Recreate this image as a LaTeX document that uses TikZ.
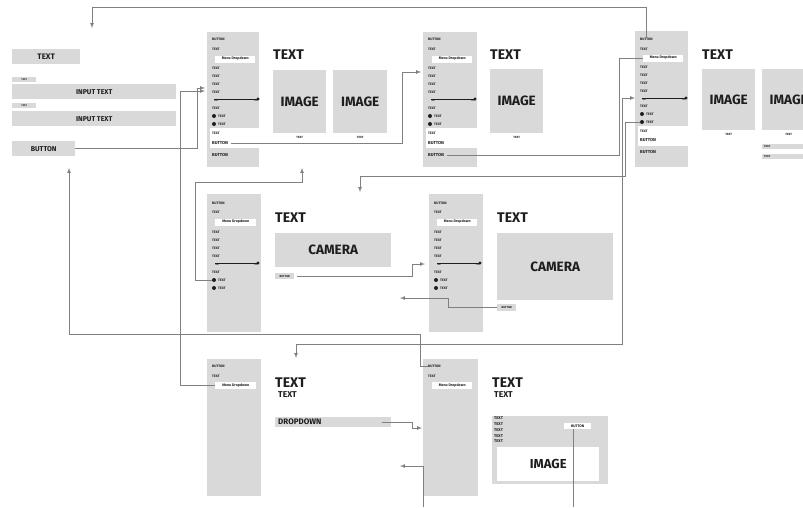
\documentclass[tikz,border=0pt]{standalone}
\usepackage{fontspec}
\setmainfont{Fira Sans}
\usepackage{xcolor}
\usetikzlibrary{positioning}

\definecolor{panel}{HTML}{D9D9D9}
\definecolor{wire}{HTML}{808080}
\definecolor{ink}{HTML}{1E1E1E}

\begin{document}
\begin{tikzpicture}[x=1pt, y=-1pt, >=latex,
        phone/.style={fill=panel, anchor=north west, inner sep=0pt},
        block/.style={fill=panel, anchor=north west, inner sep=0pt, text=ink},
        item/.style={anchor=west, inner sep=0pt, text=ink, font=\fontsize{3.4}{4}\selectfont\bfseries},
        bigitem/.style={item, font=\fontsize{4.3}{5}\selectfont\bfseries},
        sliderlabel/.style={inner sep=0pt, text=ink, font=\fontsize{1.8}{2}\selectfont\bfseries},
        menubox/.style={anchor=west, fill=white, inner sep=0pt, minimum width=40pt, minimum height=7pt, text=ink, font=\fontsize{3.6}{4}\selectfont\bfseries},
        whitebox/.style={anchor=north west, fill=white, inner sep=0pt, text=ink},
        heading/.style={anchor=west, inner sep=0pt, text=ink, font=\fontsize{14}{16}\selectfont\bfseries},
        subhead/.style={anchor=west, inner sep=0pt, text=ink, font=\fontsize{8.5}{10}\selectfont\bfseries},
        imagebox/.style={block, font=\fontsize{13.5}{15}\selectfont\bfseries},
        imgcaption/.style={inner sep=0pt, text=ink, font=\fontsize{3}{4}\selectfont\bfseries},
        knob/.style={circle, fill=ink, inner sep=0pt, minimum size=3.4pt},
        link/.style={draw=wire, line width=0.7pt}]

        \path [fill=white, use as bounding box] (0,0) rectangle (803,507);

        % left column
        \node (LeftTitle) [block, minimum width=68pt, minimum height=15pt, font=\fontsize{8}{9}\selectfont\bfseries] at (12,49) {TEXT};
        \node (LeftLabel1) [block, minimum width=24pt, minimum height=5pt, font=\fontsize{2.5}{3}\selectfont\bfseries] at (12,77) {TEXT};
        \node (LeftInput1) [block, minimum width=164pt, minimum height=15pt, font=\fontsize{7}{8}\selectfont\bfseries] at (12,84) {INPUT TEXT};
        \node (LeftLabel2) [block, minimum width=24pt, minimum height=5pt, font=\fontsize{2.5}{3}\selectfont\bfseries] at (12,103) {TEXT};
        \node (LeftInput2) [block, minimum width=164pt, minimum height=15pt, font=\fontsize{7}{8}\selectfont\bfseries] at (12,111) {INPUT TEXT};
        \node (LeftBtn) [block, minimum width=63pt, minimum height=15pt, font=\fontsize{7}{8}\selectfont\bfseries] at (12,141) {BUTTON};

        % phone 1
        \node (Phone1) [phone, minimum width=52pt, minimum height=135pt] at (207,32) {};
        \node (P1Btn) [item] at (212,39) {BUTTON};
        \node (P1Text) [item] at ([yshift=-10pt]P1Btn.west) {TEXT};
        \node (P1Menu) [menubox] at ([xshift=3pt, yshift=-10pt]P1Text.west) {Menu Dropdown};
        \node (P1Text1) [item] at ([xshift=-3pt, yshift=-9pt]P1Menu.west) {TEXT};
        \node (P1Text2) [item] at ([yshift=-8pt]P1Text1.west) {TEXT};
        \node (P1Text3) [item] at ([yshift=-8pt]P1Text2.west) {TEXT};
        \node (P1Text4) [item] at ([yshift=-8pt]P1Text3.west) {TEXT};
        \coordinate (P1Slide) at ([xshift=2pt, yshift=-7pt]P1Text4.west);
        \draw [ink, line width=0.6pt] (P1Slide) -- ++(44,0) node (P1Knob) [knob] {};
        \node (P1Min) [sliderlabel, anchor=north west] at ([yshift=-1.2pt]P1Slide) {TEXT};
        \node (P1Max) [sliderlabel, anchor=north east] at ([yshift=-1.2pt]P1Knob.center) {TEXT};
        \node (P1Text5) [item] at ([xshift=-2pt, yshift=-9pt]P1Slide) {TEXT};
        \node (P1Radio1) [item] at ([xshift=6pt, yshift=-8pt]P1Text5.west) {TEXT};
        \node (P1Radio2) [item] at ([yshift=-8pt]P1Radio1.west) {TEXT};
        \fill [ink] ([xshift=-4pt]P1Radio1.west) circle (2pt) ([xshift=-4pt]P1Radio2.west) circle (2pt);
        \node (P1Panel) [whitebox, minimum width=49pt, minimum height=20pt] at ([xshift=-8pt, yshift=-4pt]P1Radio2.west) {};
        \node (P1PanelText) [item] at ([xshift=-6pt, yshift=-9pt]P1Radio2.west) {TEXT};
        \node (P1PanelBtn) [bigitem] at ([yshift=-10pt]P1PanelText.west) {BUTTON};
        \node (P1Bottom) [bigitem] at ([yshift=-12pt]P1PanelBtn.west) {BUTTON};

        \node (Head1) [heading] at (273,55) {TEXT};
        \node (Img1a) [imagebox, minimum width=53pt, minimum height=63pt] at (273,70) {IMAGE};
        \node (Img1b) [imagebox, minimum width=54pt, minimum height=63pt] at (333,70) {IMAGE};
        \node (Cap1a) [imgcaption, below=3pt of Img1a] {TEXT};
        \node (Cap1b) [imgcaption, below=3pt of Img1b] {TEXT};

        % phone 2
        \node (Phone2) [phone, minimum width=54pt, minimum height=135pt] at (423,32) {};
        \node (P2Btn) [item] at (428,39) {BUTTON};
        \node (P2Text) [item] at ([yshift=-10pt]P2Btn.west) {TEXT};
        \node (P2Menu) [menubox] at ([xshift=4pt, yshift=-10pt]P2Text.west) {Menu Dropdown};
        \node (P2Text1) [item] at ([xshift=-4pt, yshift=-9pt]P2Menu.west) {TEXT};
        \node (P2Text2) [item] at ([yshift=-8pt]P2Text1.west) {TEXT};
        \node (P2Text3) [item] at ([yshift=-8pt]P2Text2.west) {TEXT};
        \node (P2Text4) [item] at ([yshift=-8pt]P2Text3.west) {TEXT};
        \coordinate (P2Slide) at ([xshift=3pt, yshift=-7pt]P2Text4.west);
        \draw [ink, line width=0.6pt] (P2Slide) -- ++(44,0) node (P2Knob) [knob] {};
        \node (P2Min) [sliderlabel, anchor=north west] at ([yshift=-1.2pt]P2Slide) {TEXT};
        \node (P2Max) [sliderlabel, anchor=north east] at ([yshift=-1.2pt]P2Knob.center) {TEXT};
        \node (P2Text5) [item] at ([xshift=-3pt, yshift=-9pt]P2Slide) {TEXT};
        \node (P2Radio1) [item] at ([xshift=6pt, yshift=-8pt]P2Text5.west) {TEXT};
        \node (P2Radio2) [item] at ([yshift=-8pt]P2Radio1.west) {TEXT};
        \fill [ink] ([xshift=-4pt]P2Radio1.west) circle (2pt) ([xshift=-4pt]P2Radio2.west) circle (2pt);
        \node (P2Panel) [whitebox, minimum width=51pt, minimum height=20pt] at ([xshift=-8pt, yshift=-4pt]P2Radio2.west) {};
        \node (P2PanelText) [item] at ([xshift=-6pt, yshift=-9pt]P2Radio2.west) {TEXT};
        \node (P2PanelBtn) [bigitem] at ([yshift=-10pt]P2PanelText.west) {BUTTON};
        \node (P2Bottom) [bigitem] at ([yshift=-12pt]P2PanelBtn.west) {BUTTON};

        \node (Head2) [heading] at (490,55) {TEXT};
        \node (Img2) [imagebox, minimum width=53pt, minimum height=64pt] at (490,69) {IMAGE};
        \node (Cap2) [imgcaption, below=3pt of Img2] {TEXT};

        % phone 3
        \node (Phone3) [phone, minimum width=53pt, minimum height=136pt] at (635,31) {};
        \node (P3Btn) [item] at (640,39) {BUTTON};
        \node (P3Text) [item] at ([yshift=-10pt]P3Btn.west) {TEXT};
        \node (P3Menu) [menubox] at ([xshift=3pt, yshift=-9pt]P3Text.west) {Menu Dropdown};
        \node (P3Text1) [item] at ([xshift=-3pt, yshift=-9pt]P3Menu.west) {TEXT};
        \node (P3Text2) [item] at ([yshift=-8pt]P3Text1.west) {TEXT};
        \node (P3Text3) [item] at ([yshift=-8pt]P3Text2.west) {TEXT};
        \node (P3Text4) [item] at ([yshift=-8pt]P3Text3.west) {TEXT};
        \coordinate (P3Slide) at ([xshift=2pt, yshift=-7pt]P3Text4.west);
        \draw [ink, line width=0.6pt] (P3Slide) -- ++(44,0) node (P3Knob) [knob] {};
        \node (P3Min) [sliderlabel, anchor=north west] at ([yshift=-1.2pt]P3Slide) {TEXT};
        \node (P3Max) [sliderlabel, anchor=north east] at ([yshift=-1.2pt]P3Knob.center) {TEXT};
        \node (P3Text5) [item] at ([xshift=-2pt, yshift=-8pt]P3Slide) {TEXT};
        \node (P3Radio1) [item] at ([xshift=6pt, yshift=-8pt]P3Text5.west) {TEXT};
        \node (P3Radio2) [item] at ([yshift=-8pt]P3Radio1.west) {TEXT};
        \fill [ink] ([xshift=-4pt]P3Radio1.west) circle (2pt) ([xshift=-4pt]P3Radio2.west) circle (2pt);
        \node (P3Panel) [whitebox, minimum width=50pt, minimum height=20pt] at ([xshift=-8pt, yshift=-4pt]P3Radio2.west) {};
        \node (P3PanelText) [item] at ([xshift=-6pt, yshift=-9pt]P3Radio2.west) {TEXT};
        \node (P3PanelBtn) [bigitem] at ([yshift=-9pt]P3PanelText.west) {BUTTON};
        \node (P3Bottom) [bigitem] at ([yshift=-12pt]P3PanelBtn.west) {BUTTON};

        \node (Head3) [heading] at (702,55) {TEXT};
        \node (Img3a) [imagebox, minimum width=53pt, minimum height=61pt] at (702,69) {IMAGE};
        \node (Img3b) [imagebox, minimum width=53pt, minimum height=61pt] at (762,69) {IMAGE};
        \node (Cap3a) [imgcaption, below=3pt of Img3a] {TEXT};
        \node (Cap3b) [imgcaption, below=3pt of Img3b] {TEXT};
        \node (Strip3a) [block, minimum height=5pt, inner xsep=2pt, text width=48pt, align=left, font=\fontsize{2.8}{3}\selectfont\bfseries] at (762,144) {TEXT};
        \node (Strip3b) [block, minimum height=5pt, inner xsep=2pt, text width=48pt, align=left, font=\fontsize{2.8}{3}\selectfont\bfseries] at (762,154) {TEXT};

        % phone 4
        \node (Phone4) [phone, minimum width=54pt, minimum height=138pt] at (207,194) {};
        \node (P4Btn) [item] at (212,203) {BUTTON};
        \node (P4Text) [item] at ([yshift=-9pt]P4Btn.west) {TEXT};
        \node (P4Menu) [menubox, minimum width=41pt] at ([xshift=3pt, yshift=-10pt]P4Text.west) {Menu Dropdown};
        \node (P4Text1) [item] at ([xshift=-3pt, yshift=-10pt]P4Menu.west) {TEXT};
        \node (P4Text2) [item] at ([yshift=-8pt]P4Text1.west) {TEXT};
        \node (P4Text3) [item] at ([yshift=-8pt]P4Text2.west) {TEXT};
        \node (P4Text4) [item] at ([yshift=-8pt]P4Text3.west) {TEXT};
        \coordinate (P4Slide) at ([xshift=3pt, yshift=-7pt]P4Text4.west);
        \draw [ink, line width=0.6pt] (P4Slide) -- ++(43,0) node (P4Knob) [knob] {};
        \node (P4Min) [sliderlabel, anchor=north west] at ([yshift=-1.2pt]P4Slide) {TEXT};
        \node (P4Max) [sliderlabel, anchor=north east] at ([yshift=-1.2pt]P4Knob.center) {TEXT};
        \node (P4Text5) [item] at ([xshift=-3pt, yshift=-9pt]P4Slide) {TEXT};
        \node (P4Radio1) [item] at ([xshift=6pt, yshift=-8pt]P4Text5.west) {TEXT};
        \node (P4Radio2) [item] at ([yshift=-8pt]P4Radio1.west) {TEXT};
        \fill [ink] ([xshift=-4pt]P4Radio1.west) circle (2pt) ([xshift=-4pt]P4Radio2.west) circle (2pt);

        \node (Head4) [heading] at (275,218) {TEXT};
        \node (Cam4) [imagebox, minimum width=116pt, minimum height=34pt] at (275,233) {CAMERA};
        \node (Btn4) [block, minimum width=19pt, minimum height=6pt, font=\fontsize{2.8}{3}\selectfont\bfseries] at (275,273) {BUTTON};

        % phone 5
        \node (Phone5) [phone, minimum width=54pt, minimum height=138pt] at (429,194) {};
        \node (P5Btn) [item] at (434,203) {BUTTON};
        \node (P5Text) [item] at ([yshift=-9pt]P5Btn.west) {TEXT};
        \node (P5Menu) [menubox] at ([xshift=3pt, yshift=-10pt]P5Text.west) {Menu Dropdown};
        \node (P5Text1) [item] at ([xshift=-3pt, yshift=-10pt]P5Menu.west) {TEXT};
        \node (P5Text2) [item] at ([yshift=-8pt]P5Text1.west) {TEXT};
        \node (P5Text3) [item] at ([yshift=-8pt]P5Text2.west) {TEXT};
        \node (P5Text4) [item] at ([yshift=-8pt]P5Text3.west) {TEXT};
        \coordinate (P5Slide) at ([xshift=3pt, yshift=-7pt]P5Text4.west);
        \draw [ink, line width=0.6pt] (P5Slide) -- ++(43,0) node (P5Knob) [knob] {};
        \node (P5Min) [sliderlabel, anchor=north west] at ([yshift=-1.2pt]P5Slide) {TEXT};
        \node (P5Max) [sliderlabel, anchor=north east] at ([yshift=-1.2pt]P5Knob.center) {TEXT};
        \node (P5Text5) [item] at ([xshift=-3pt, yshift=-9pt]P5Slide) {TEXT};
        \node (P5Radio1) [item] at ([xshift=6pt, yshift=-8pt]P5Text5.west) {TEXT};
        \node (P5Radio2) [item] at ([yshift=-8pt]P5Radio1.west) {TEXT};
        \fill [ink] ([xshift=-4pt]P5Radio1.west) circle (2pt) ([xshift=-4pt]P5Radio2.west) circle (2pt);

        \node (Head5) [heading] at (497,218) {TEXT};
        \node (Cam5) [imagebox, minimum width=116pt, minimum height=67pt] at (497,233) {CAMERA};
        \node (Btn5) [block, minimum width=19pt, minimum height=7pt, font=\fontsize{2.8}{3}\selectfont\bfseries] at (497,304) {BUTTON};

        % phone 6
        \node (Phone6) [phone, minimum width=54pt, minimum height=137pt] at (207,359) {};
        \node (P6Btn) [item] at (212,366) {BUTTON};
        \node (P6Text) [item] at ([yshift=-10pt]P6Btn.west) {TEXT};
        \node (P6Menu) [menubox, minimum width=41pt] at ([xshift=3pt, yshift=-9.5pt]P6Text.west) {Menu Dropdown};

        \node (Head6) [heading] at (275,383) {TEXT};
        \node (Sub6) [subhead] at (278,395) {TEXT};
        \node (Drop6) [block, minimum height=10pt, inner xsep=3pt, text width=110pt, align=left, font=\fontsize{8}{9}\selectfont\bfseries] at (275,417) {DROPDOWN};

        % phone 7
        \node (Phone7) [phone, minimum width=55pt, minimum height=137pt] at (423,359) {};
        \node (P7Btn) [item] at (428,366) {BUTTON};
        \node (P7Text) [item] at ([yshift=-10pt]P7Btn.west) {TEXT};
        \node (P7Menu) [menubox] at ([xshift=4pt, yshift=-9.5pt]P7Text.west) {Menu Dropdown};

        \node (Head7) [heading] at (492,383) {TEXT};
        \node (Sub7) [subhead] at (494,395) {TEXT};
        \node (Card7) [block, minimum width=116pt, minimum height=68pt] at (492,416) {};
        \node (CardLines) [anchor=north west, inner sep=0pt, align=left, text=ink, font=\fontsize{4}{5.7}\selectfont\bfseries] at (494,417) {TEXT\\TEXT\\TEXT\\TEXT\\TEXT};
        \node (CardBtn) [whitebox, minimum width=27pt, minimum height=6pt, font=\fontsize{3.6}{4}\selectfont\bfseries] at (564,423) {BUTTON};
        \node (CardImg) [whitebox, minimum width=102pt, minimum height=34pt, font=\fontsize{13}{15}\selectfont\bfseries] at (497,447) {IMAGE};

        % connectors
        \coordinate (TopTip) at (92,28);
        \coordinate (P1InA) at (205,88);
        \coordinate (P1InB) at (205,91);
        \coordinate (UpTip) at (302,168);
        \coordinate (P2In) at (421,72);
        \coordinate (MidTip) at (360,192);
        \coordinate (DownTip) at (296,358);
        \coordinate (LeftUp) at (69,168);
        \coordinate (P5In) at (425,264);
        \coordinate (LeftTip) at (400,298);
        \coordinate (P7In) at (422,428);
        \coordinate (LowTip) at (400,466);
        \coordinate (EdgeA) at (423,507);
        \coordinate (EdgeB) at (573,507);

        \draw [link, ->] (P3Btn.north) -- ++(0,-30) -| (TopTip);
        \draw [link, ->] (LeftBtn.east) -| ([xshift=-8pt]P1InA) -- (P1InA);
        \draw [link, ->] (P6Menu.west) -| ([xshift=-25pt]P1InB) -- (P1InB);
        \draw [link, ->] ([xshift=-6pt]P4Radio1.west) -- ++(-17,0) -- ++(0,-98) -| (UpTip);
        \draw [link, ->] ([xshift=3pt]P1PanelBtn.east) -| ([xshift=-19pt]P2In) -- (P2In);
        \draw [link] ([xshift=3pt]P2Bottom.east) -| ([xshift=-24pt]P3Menu.west) -- (P3Menu.west);
        \draw [link, <->] (DownTip) -- ++(0,-14) -| ([xshift=-20pt]P3Slide) -- ([xshift=-7pt]P3Slide);
        \draw [link, ->] ([xshift=-6pt]P3Radio2.west) -- ++(-15,0) -- ++(0,54) -| (MidTip);
        \draw [link, ->] (P7Btn.west) -- ++(-8,0) -- ++(0,-32) -| (LeftUp);
        \draw [link, ->] ([xshift=3pt]Btn4.east) -| ([xshift=-13pt]P5In) -- (P5In);
        \draw [link, ->] (Btn5.west) -| ([xshift=48pt]LeftTip) -- (LeftTip);
        \draw [link, ->] ([xshift=-9pt]Drop6.east) -| ([xshift=-10pt]P7In) -- (P7In);
        \draw [link, ->] (EdgeA) |- (LowTip);
        \draw [link] (CardBtn.south -| EdgeB) -- (EdgeB);
      \end{tikzpicture}
\end{document}
